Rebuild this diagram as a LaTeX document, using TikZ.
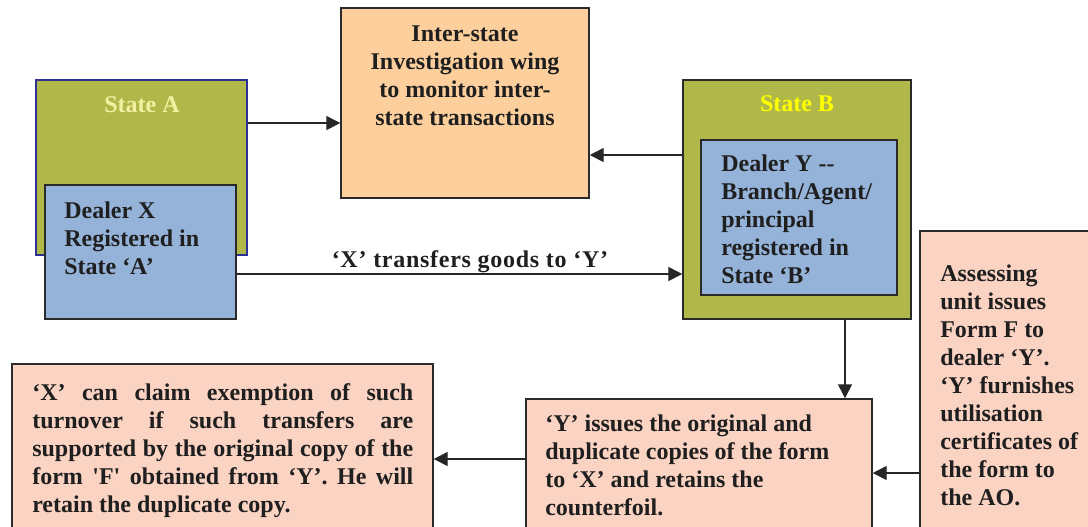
\documentclass[tikz,border=0pt]{standalone}
\usepackage{fontspec}
\setmainfont{Liberation Serif}
\usetikzlibrary{arrows.meta,fit}
\definecolor{stolive}{HTML}{B1B84A}
\definecolor{dblue}{HTML}{95B3D9}
\definecolor{peach}{HTML}{FCCF9C}
\definecolor{pinkbox}{HTML}{FBD3C3}
\definecolor{boxline}{HTML}{2A2A2A}
\definecolor{stAline}{HTML}{2E3192}
\definecolor{stAtext}{HTML}{F4F0A2}
\definecolor{stBtext}{HTML}{FFFF00}
\begin{document}
\begin{tikzpicture}[x=0.75pt,y=-0.75pt,
  font=\bfseries\fontsize{18}{21}\selectfont,
  box/.style={draw=boxline, line width=1.1pt, inner sep=0pt},
  txt/.style={inner sep=0pt, anchor=north west, align=left, text=black!88},
  arr/.style={line width=1.1pt, draw=black!85, -{Triangle[length=10.5pt,width=10.5pt]}}]
\useasboundingbox (0,0) rectangle (1088,526);
\clip (0,0) rectangle (1088,526);
\fill[white] (0,0) rectangle (1088,526);
% boxes
\node[box, fill=stolive, draw=stAline, line width=0.9pt, fit={(36,80)(247,255)}] (stA) {};
\node[box, fill=dblue, fit={(45,185)(236,319)}] (dX) {};
\node[box, fill=peach, fit={(341,8)(589,198)}] (isw) {};
\node[box, fill=stolive, fit={(683,80)(911,319)}] (stB) {};
\node[box, fill=dblue, fit={(701,140)(897,295)}] (dY) {};
\node[box, fill=pinkbox, fit={(920,231)(1100,545)}] (au) {};
\node[box, fill=pinkbox, fit={(12,364)(433,545)}] (xc) {};
\node[box, fill=pinkbox, fit={(526,399)(872,545)}] (yi) {};
% texts
\node[inner sep=0pt, text=stAtext] (tA) at (142,105) {State A};
\node[inner sep=0pt, text=stBtext] (tB) at (797,104) {State B};
\node[txt] (tdX) at (64,202) {Dealer X\\Registered in\\State ‘A’};
\node[txt, align=center, anchor=north] (tisw) at (465,26) {Inter-state\\Investigation wing\\to monitor inter-\\state transactions};
\node[txt] (tdY) at (721,155) {Dealer Y {-}{-}\\Branch/Agent/\\principal\\registered in\\State ‘B’};
\node[txt] (tau) at (940,265) {Assessing\\unit issues\\Form F to\\dealer ‘Y’.\\‘Y’ furnishes\\utilisation\\certificates of\\the form to\\the AO.};
\node[txt, text width=285.75pt, align=justify] (txc) at (32,383) {‘X’ can claim exemption of such\linebreak turnover if such transfers are\linebreak supported by the original copy of the\linebreak form \textquotesingle F\textquotesingle\ obtained from ‘Y’. He will\linebreak retain the duplicate copy.};
\node[txt] (tyi) at (545,415) {‘Y’ issues the original and\\duplicate copies of the form\\to ‘X’ and retains the\\counterfoil.};
% connectors
\draw[arr] (stA.east |- 0,123) -- (isw.west |- 0,123);
\draw[arr] (stB.west |- 0,155) -- (isw.east |- 0,155);
\draw[arr] (dX.east |- 0,274) -- (stB.west |- 0,274);
\node[inner sep=0pt, text=black!88, font=\bfseries\fontsize{18}{21}\selectfont\addfontfeature{LetterSpace=3}] (lbl) at (470,262) {‘X’ transfers goods to ‘Y’};
\draw[arr] (stB.south -| 845,0) -- (yi.north -| 845,0);
\draw[arr] (au.west |- 0,473) -- (yi.east |- 0,473);
\draw[arr] (yi.west |- 0,459) -- (xc.east |- 0,459);
\end{tikzpicture}
\end{document}
